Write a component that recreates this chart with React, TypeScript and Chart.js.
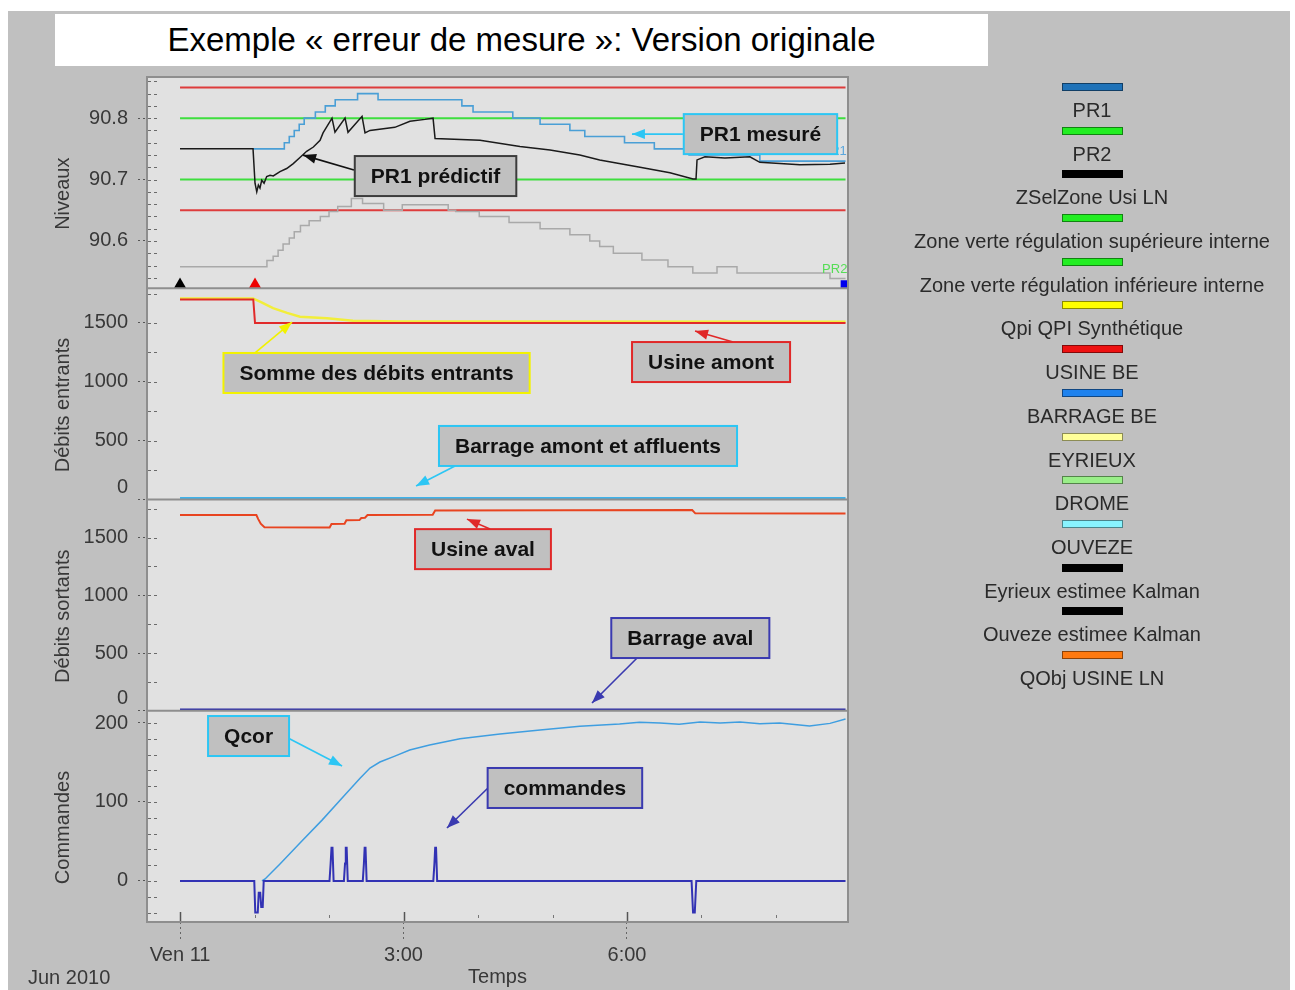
import React, { useEffect, useRef } from 'react';
import { Chart, registerables } from 'chart.js';

Chart.register(...registerables);

const FONT = '"Liberation Sans", Arial, Helvetica, sans-serif';
const NBSP4 = '\u00a0\u00a0\u00a0\u00a0';
const TICK_COLOR = '#383838';

// ---------- x axis (minutes after "Ven 11" 00:00) ----------
const xMin = -26.6;
const xMax = 538;
const xTickValues = [0, 180, 360];
const xTickNames = ['Ven 11', '3:00', '6:00'];

// ---------- panel tick labels ----------
const levelTickValues = [90.6, 90.7, 90.8];
const inflowTickValues = [0, 500, 1000, 1500];
const outflowTickValues = [0, 500, 1000, 1500];
const commandTickValues = [0, 100, 200];

// ---------- Niveaux ----------
const refTimes = [0, 536];
const redHighValues = [90.85, 90.85];
const redLowValues = [90.65, 90.65];
const greenHighValues = [90.8, 90.8];
const greenLowValues = [90.7, 90.7];

const predTimes = [0, 58.8, 60.4, 61.8, 63.1, 64.4, 65.8, 67.7, 69.8, 72.5, 75.1, 80.5, 85.9, 91.2, 96.6, 102, 107.4, 112.8, 115.2, 122.4, 124.8, 132.9, 135.3, 146.6, 149, 153, 173, 185.2, 197.3, 203.8, 205.4, 241.6, 273.8, 298, 322, 338, 370.5, 394.6, 413.2, 415.6, 416.4, 422.8, 438.9, 459, 467, 499.3, 523.5, 535.6];
const predValues = [90.75, 90.75, 90.694, 90.68, 90.691, 90.686, 90.699, 90.694, 90.705, 90.707, 90.706, 90.713, 90.718, 90.726, 90.736, 90.746, 90.753, 90.764, 90.776, 90.8, 90.777, 90.8, 90.777, 90.803, 90.776, 90.78, 90.785, 90.795, 90.798, 90.8, 90.767, 90.764, 90.754, 90.748, 90.74, 90.732, 90.72, 90.711, 90.701, 90.701, 90.732, 90.737, 90.735, 90.737, 90.728, 90.724, 90.725, 90.727];

const pr1Times = [58.8, 84, 88, 92, 96, 100, 109, 117, 125, 143, 159.5, 227, 236, 268, 290, 314, 326, 358, 382, 410, 467, 536];
const pr1Values = [90.75, 90.76, 90.77, 90.78, 90.79, 90.8, 90.81, 90.82, 90.83, 90.84, 90.83, 90.82, 90.81, 90.8, 90.79, 90.78, 90.77, 90.76, 90.75, 90.74, 90.73, 90.73];

const pr2Times = [0, 70, 75, 79, 83, 88, 92, 97, 104, 113, 120, 127, 138, 147, 164, 179, 216, 222, 241, 265, 290, 314, 330, 338, 349, 372, 393, 413, 432.5, 448.6, 523.5, 536];
const pr2Values = [90.558, 90.568, 90.575, 90.585, 90.595, 90.605, 90.615, 90.625, 90.633, 90.64, 90.648, 90.656, 90.669, 90.661, 90.65, 90.659, 90.65, 90.648, 90.64, 90.63, 90.62, 90.61, 90.6, 90.591, 90.58, 90.569, 90.558, 90.548, 90.558, 90.548, 90.539, 90.539];

const markerTimes = [0, 60.4, 535.5];
const markerValue = 90.529;

// ---------- Débits entrants ----------
const usineAmontTimes = [0, 59, 60.4, 536];
const usineAmontValues = [1700, 1700, 1500, 1500];
const qpiTimes = [0, 58.8, 64.4, 74.9, 86.2, 96.6, 118.4, 139.3, 177.2, 536];
const qpiValues = [1708, 1708, 1681, 1627, 1585, 1553, 1540, 1519, 1512, 1510];
const barrageAmontTimes = [0, 536];
const barrageAmontValues = [12, 12];

// ---------- Débits sortants ----------
const usineAvalTimes = [0, 61.5, 63, 65, 68, 120.5, 122, 132.5, 134, 144.5, 146, 149, 151, 203.5, 205.5, 412.5, 415, 536];
const usineAvalValues = [1695, 1695, 1660, 1620, 1590, 1588, 1618, 1620, 1650, 1652, 1670, 1672, 1695, 1697, 1735, 1738, 1710, 1708];
const barrageAvalTimes = [0, 536];
const barrageAvalValues = [8, 8];

// ---------- Commandes ----------
const qcorTimes = [66, 68.5, 80.5, 96.6, 114.4, 132.9, 145, 153, 161, 173, 185, 201, 225.5, 257.7, 290, 322, 354, 370, 386.6, 402, 418.8, 435, 451, 467, 483, 495, 507, 523.5, 536];
const qcorValues = [0, 2.5, 21.5, 48, 77, 109, 130, 143, 150.6, 158, 165.8, 172, 180, 186, 191, 196, 198.7, 201, 200, 198.5, 201.3, 200, 201.3, 199, 200, 198, 196.2, 199.5, 205];
const commandTimes = [0, 59.8, 60.6, 62.6, 63.4, 64.6, 65.4, 66.6, 67.4, 120.4, 121.3, 122, 122.8, 123.7, 132, 132.9, 133.5, 134.2, 135.1, 147.2, 148.1, 148.7, 149.4, 150.3, 204, 204.9, 205.5, 206.2, 207.1, 412, 413.2, 414.6, 415.8, 536];
const commandValues = [0, 0, -40, -40, -15, -15, -33, -33, 0, 0, 22, 42, 42, 0, 0, 22, 42, 42, 0, 0, 22, 42, 42, 0, 0, 22, 42, 42, 0, 0, -40, -40, 0, 0];

// ---------- legend ----------
const legendLabels = ['PR1', 'PR2', 'ZSelZone Usi LN', 'Zone verte régulation supérieure interne', 'Zone verte régulation inférieure interne', 'Qpi QPI Synthétique', 'USINE BE', 'BARRAGE BE', 'EYRIEUX', 'DROME', 'OUVEZE', 'Eyrieux estimee Kalman', 'Ouveze estimee Kalman', 'QObj USINE LN'];
const legendColors = ['#1f72b8', '#22ee22', '#000000', '#22ee22', '#22ee22', '#ffff00', '#ee1111', '#1e82ee', '#ffff99', '#99ee88', '#88f4ff', '#000000', '#000000', '#ff7a10'];

// ---------- annotations (anchored in data units) ----------
const annotations = [
  { text: 'PR1 mesuré', axis: 'yN', x: 467.5, y: 90.774, border: '#2cc6f4', arrow: '#2cc6f4', from: [405, 90.774], to: [364, 90.774] },
  { text: 'PR1 prédictif', axis: 'yN', x: 205.8, y: 90.7057, border: '#3c3c3c', arrow: '#111111', from: [140.1, 90.7154], to: [99.1, 90.7398] },
  { text: 'Somme des débits entrants', axis: 'yE', x: 158.3, y: 1075, border: '#f2f200', arrow: '#f2f200', from: [60.4, 1245], to: [90.2, 1508] },
  { text: 'Usine amont', axis: 'yE', x: 427.7, y: 1168, border: '#e02828', arrow: '#e02828', from: [445.4, 1338], to: [414.8, 1432] },
  { text: 'Barrage amont et affluents', axis: 'yE', x: 328.6, y: 455, border: '#2cc6f4', arrow: '#2cc6f4', from: [221.5, 285], to: [190.1, 115] },
  { text: 'Usine aval', axis: 'yS', x: 244, y: 1400, border: '#e02828', arrow: '#e02828', from: [249.7, 1574], to: [231.1, 1660] },
  { text: 'Barrage aval', axis: 'yS', x: 411, y: 630, border: '#3a3ab0', arrow: '#3a3ab0', from: [368.1, 457], to: [331.8, 67] },
  { text: 'Qcor', axis: 'yC', x: 55.2, y: 183.5, border: '#2cc6f4', arrow: '#2cc6f4', from: [87, 181], to: [130.5, 145.6] },
  { text: 'commandes', axis: 'yC', x: 310, y: 117.7, border: '#3a3ab0', arrow: '#3a3ab0', from: [248, 117.7], to: [215, 67] },
];

const endLabels = [
  { text: 'PR1', axis: 'yN', x: 537, y: 90.745, color: '#5aa6dc' },
  { text: 'PR2', axis: 'yN', x: 537.5, y: 90.553, color: '#55dd55' },
];

// ---------- helpers ----------
const near = (v: number, list: number[]) => list.findIndex((t) => Math.abs(t - v) < 1e-6);
const pts = (t: number[], v: number[]) => t.map((x, i) => ({ x, y: v[i] }));

// regular tick positions between the scale bounds (tick marks only; labels come from the arrays above)
function regularTicks(s: any, step: number) {
  const out: { value: number }[] = [];
  const start = Math.ceil((s.min - 1e-9) / step);
  const end = Math.floor((s.max + 1e-9) / step);
  for (let k = start; k <= end; k++) out.push({ value: +(k * step).toFixed(6) });
  s.ticks = out;
}

function line(label: string, t: number[], v: number[], axis: string, color: string, width: number, extra: any = {}) {
  return {
    label,
    data: pts(t, v),
    xAxisID: 'x',
    yAxisID: axis,
    borderColor: color,
    backgroundColor: color,
    borderWidth: width,
    pointRadius: 0,
    fill: false,
    tension: 0,
    ...extra,
  };
}

function yAxis(min: number, max: number, step: number, majors: number[], title: string, decimals: number, shiftZero: boolean) {
  return {
    type: 'linear',
    position: 'left',
    stack: 'panels',
    stackWeight: 1,
    min,
    max,
    afterFit: (s: any) => {
      s.width = 139;
    },
    afterBuildTicks: (s: any) => regularTicks(s, step),
    ticks: {
      stepSize: step,
      autoSkip: false,
      padding: 10,
      color: TICK_COLOR,
      font: { family: FONT, size: 20 },
      callback: (v: number) => {
        const i = near(v, majors);
        if (i < 0) return '';
        const s = majors[i].toFixed(decimals);
        return shiftZero && majors[i] === 0 ? [s, ''] : s;
      },
    },
    grid: {
      drawOnChartArea: false,
      drawTicks: true,
      tickLength: 9,
      tickWidth: 1,
      tickBorderDash: [2, 3],
      tickColor: (c: any) => (c.tick && near(c.tick.value, majors) >= 0 ? '#555555' : 'rgba(0,0,0,0)'),
    },
    border: { display: false },
    title: {
      display: true,
      text: title + NBSP4,
      color: TICK_COLOR,
      font: { family: FONT, size: 20 },
      padding: { top: 43, bottom: 0 },
    },
  };
}

function drawArrow(ctx: CanvasRenderingContext2D, x1: number, y1: number, x2: number, y2: number, color: string) {
  ctx.strokeStyle = color;
  ctx.fillStyle = color;
  ctx.lineWidth = 1.6;
  ctx.beginPath();
  ctx.moveTo(x1, y1);
  ctx.lineTo(x2, y2);
  ctx.stroke();
  const ang = Math.atan2(y2 - y1, x2 - x1);
  const L = 13;
  const W = 5;
  const c = Math.cos(ang);
  const s = Math.sin(ang);
  ctx.beginPath();
  ctx.moveTo(x2, y2);
  ctx.lineTo(x2 - L * c + W * s, y2 - L * s - W * c);
  ctx.lineTo(x2 - L * c - W * s, y2 - L * s + W * c);
  ctx.closePath();
  ctx.fill();
}

const panelIds = ['yN', 'yE', 'yS', 'yC'];

const decorPlugin = {
  id: 'decor',
  beforeDraw(chart: any) {
    const { ctx, chartArea: a } = chart;
    ctx.save();
    ctx.fillStyle = '#e1e1e1';
    ctx.fillRect(a.left, a.top, a.right - a.left, a.bottom - a.top);
    ctx.restore();
  },
  beforeDatasetsDraw(chart: any) {
    const { ctx, chartArea: a } = chart;
    ctx.save();
    ctx.strokeStyle = '#6a6a6a';
    ctx.lineWidth = 1;
    ctx.setLineDash([3, 3]);
    for (const id of panelIds) {
      const s = chart.scales[id];
      for (const t of s.ticks) {
        const y = Math.round(s.getPixelForValue(t.value)) + 0.5;
        if (y < s.top + 2 || y > s.bottom - 2) continue;
        ctx.beginPath();
        ctx.moveTo(a.left + 1, y);
        ctx.lineTo(a.left + 11, y);
        ctx.stroke();
      }
    }
    ctx.setLineDash([]);
    const xs = chart.scales.x;
    for (const t of xs.ticks) {
      const x = Math.round(xs.getPixelForValue(t.value)) + 0.5;
      const major = near(t.value, xTickValues) >= 0;
      ctx.strokeStyle = major ? '#555555' : '#777777';
      ctx.lineWidth = major ? 1.5 : 1;
      ctx.beginPath();
      ctx.moveTo(x, a.bottom - (major ? 10 : 7));
      ctx.lineTo(x, a.bottom - (major ? 0 : 4));
      ctx.stroke();
    }
    ctx.restore();
  },
  afterDatasetsDraw(chart: any) {
    const { ctx, chartArea: a } = chart;
    const xs = chart.scales.x;
    ctx.save();
    // frame and panel separators
    ctx.strokeStyle = '#8e8e8e';
    ctx.lineWidth = 2;
    ctx.strokeRect(a.left, a.top, a.right - a.left, a.bottom - a.top);
    for (const id of panelIds) {
      const s = chart.scales[id];
      if (Math.abs(s.bottom - a.bottom) < 1) continue;
      ctx.beginPath();
      ctx.moveTo(a.left, s.bottom);
      ctx.lineTo(a.right, s.bottom);
      ctx.stroke();
    }
    // series end labels
    ctx.font = `13px ${FONT}`;
    ctx.textAlign = 'right';
    ctx.textBaseline = 'middle';
    for (const l of endLabels) {
      ctx.fillStyle = l.color;
      ctx.fillText(l.text, xs.getPixelForValue(l.x), chart.scales[l.axis].getPixelForValue(l.y));
    }
    // annotation boxes with arrows
    for (const an of annotations) {
      const ys = chart.scales[an.axis];
      drawArrow(ctx, xs.getPixelForValue(an.from[0]), ys.getPixelForValue(an.from[1]), xs.getPixelForValue(an.to[0]), ys.getPixelForValue(an.to[1]), an.arrow);
    }
    ctx.font = `bold 21px ${FONT}`;
    ctx.textAlign = 'center';
    ctx.textBaseline = 'middle';
    for (const an of annotations) {
      const ys = chart.scales[an.axis];
      const cx = xs.getPixelForValue(an.x);
      const cy = ys.getPixelForValue(an.y);
      const w = ctx.measureText(an.text).width + 32;
      const h = 40;
      ctx.fillStyle = '#c0c0c0';
      ctx.fillRect(cx - w / 2, cy - h / 2, w, h);
      ctx.strokeStyle = an.border;
      ctx.lineWidth = 2;
      ctx.strokeRect(cx - w / 2, cy - h / 2, w, h);
      ctx.fillStyle = '#111111';
      ctx.fillText(an.text, cx, cy + 1);
    }
    ctx.restore();
  },
};

export default function App() {
  const ref = useRef<HTMLCanvasElement>(null);

  useEffect(() => {
    if (!ref.current) return;
    const datasets: any[] = [
      line('start', [markerTimes[0]], [markerValue], 'yN', '#000000', 0, { showLine: false, pointRadius: 7, pointStyle: 'triangle', pointBorderWidth: 0, pointBackgroundColor: '#000000' }),
      line('spike', [markerTimes[1]], [markerValue], 'yN', '#ee0000', 0, { showLine: false, pointRadius: 7, pointStyle: 'triangle', pointBorderWidth: 0, pointBackgroundColor: '#ee0000' }),
      line('end', [markerTimes[2]], [markerValue], 'yN', '#0000ee', 0, { showLine: false, pointRadius: 6, pointStyle: 'rect', pointBorderWidth: 0, pointBackgroundColor: '#0000ee' }),
      line('PR1 prédictif', predTimes, predValues, 'yN', '#1a1a1a', 1.5),
      line('PR1', pr1Times, pr1Values, 'yN', '#4a9fd6', 1.6, { stepped: true }),
      line('PR2', pr2Times, pr2Values, 'yN', '#a9a9a9', 1.5, { stepped: true }),
      line('Zone verte sup', refTimes, greenHighValues, 'yN', '#3ede3e', 2),
      line('Zone verte inf', refTimes, greenLowValues, 'yN', '#3ede3e', 2),
      line('Limite haute', refTimes, redHighValues, 'yN', '#de3c3c', 2),
      line('Limite basse', refTimes, redLowValues, 'yN', '#de3c3c', 2),
      line('USINE BE', usineAmontTimes, usineAmontValues, 'yE', '#e12a2a', 2),
      line('Qpi', qpiTimes, qpiValues, 'yE', '#f2ee3a', 2.4),
      line('BARRAGE BE', barrageAmontTimes, barrageAmontValues, 'yE', '#3fb2ea', 2),
      line('Usine aval', usineAvalTimes, usineAvalValues, 'yS', '#e84420', 2),
      line('Barrage aval', barrageAvalTimes, barrageAvalValues, 'yS', '#2a2aa6', 2.5),
      line('commandes', commandTimes, commandValues, 'yC', '#3232b4', 2),
      line('Qcor', qcorTimes, qcorValues, 'yC', '#3f9ee0', 1.5),
    ];

    const chart = new Chart(ref.current, {
      type: 'line',
      data: { datasets },
      options: {
        responsive: false,
        animation: false,
        devicePixelRatio: 1,
        events: [],
        layout: { padding: { left: 0, top: 66, right: 442, bottom: 0 } },
        plugins: { legend: { display: false }, tooltip: { enabled: false }, title: { display: false } },
        scales: {
          x: {
            type: 'linear',
            min: xMin,
            max: xMax,
            afterFit: (s: any) => {
              s.height = 68;
            },
            afterBuildTicks: (s: any) => regularTicks(s, 60),
            ticks: {
              stepSize: 60,
              autoSkip: false,
              maxRotation: 0,
              padding: 3,
              color: TICK_COLOR,
              font: { family: FONT, size: 20 },
              callback: (v: number) => {
                const i = near(v, xTickValues);
                return i >= 0 ? xTickNames[i] : '';
              },
            },
            grid: {
              drawOnChartArea: false,
              drawTicks: true,
              tickLength: 18,
              tickWidth: 1,
              tickBorderDash: [2, 3],
              tickColor: (c: any) => (c.tick && near(c.tick.value, xTickValues) >= 0 ? '#666666' : 'rgba(0,0,0,0)'),
            },
            border: { display: false },
            title: {
              display: true,
              text: 'Temps',
              color: TICK_COLOR,
              font: { family: FONT, size: 20 },
              padding: { top: 0, bottom: 1 },
            },
          },
          yC: yAxis(-52, 215.5, 20, commandTickValues, 'Commandes', 0, false),
          yS: yAxis(0, 1830, 250, outflowTickValues, 'Débits sortants', 0, true),
          yE: yAxis(0, 1795, 250, inflowTickValues, 'Débits entrants', 0, true),
          yN: yAxis(90.523, 90.867, 0.02, levelTickValues, 'Niveaux', 1, false),
        } as any,
      },
      plugins: [decorPlugin],
    } as any);
    return () => chart.destroy();
  }, []);

  return (
    <div
      style={{
        position: 'fixed',
        left: 8,
        top: 11,
        width: 1282,
        height: 979,
        background: '#c0c0c0',
        fontFamily: FONT,
        overflow: 'hidden',
      }}
    >
      <canvas ref={ref} width={1282} height={979} style={{ position: 'absolute', left: 0, top: 0, width: 1282, height: 979 }} />
      <div
        style={{
          position: 'absolute',
          left: 47,
          top: 3,
          width: 933,
          height: 52,
          background: '#ffffff',
          display: 'flex',
          alignItems: 'center',
          justifyContent: 'center',
          fontSize: 33,
          color: '#000000',
          whiteSpace: 'nowrap',
        }}
      >
        Exemple « erreur de mesure »: Version originale
      </div>
      <div style={{ position: 'absolute', left: 884, top: 72, width: 400, textAlign: 'center' }}>
        {legendLabels.map((lab, i) => (
          <div key={lab + i} style={{ height: 43.7 }}>
            <div
              style={{
                width: 61,
                height: 8,
                margin: '0 auto',
                background: legendColors[i],
                border: '1px solid rgba(0,0,0,0.45)',
                boxSizing: 'border-box',
              }}
            />
            <div style={{ marginTop: 8, fontSize: 20, lineHeight: '22px', color: '#2a2a2a', whiteSpace: 'nowrap' }}>{lab}</div>
          </div>
        ))}
      </div>
      <div style={{ position: 'absolute', left: 20, top: 955, fontSize: 20, lineHeight: '22px', color: TICK_COLOR }}>Jun 2010</div>
    </div>
  );
}
